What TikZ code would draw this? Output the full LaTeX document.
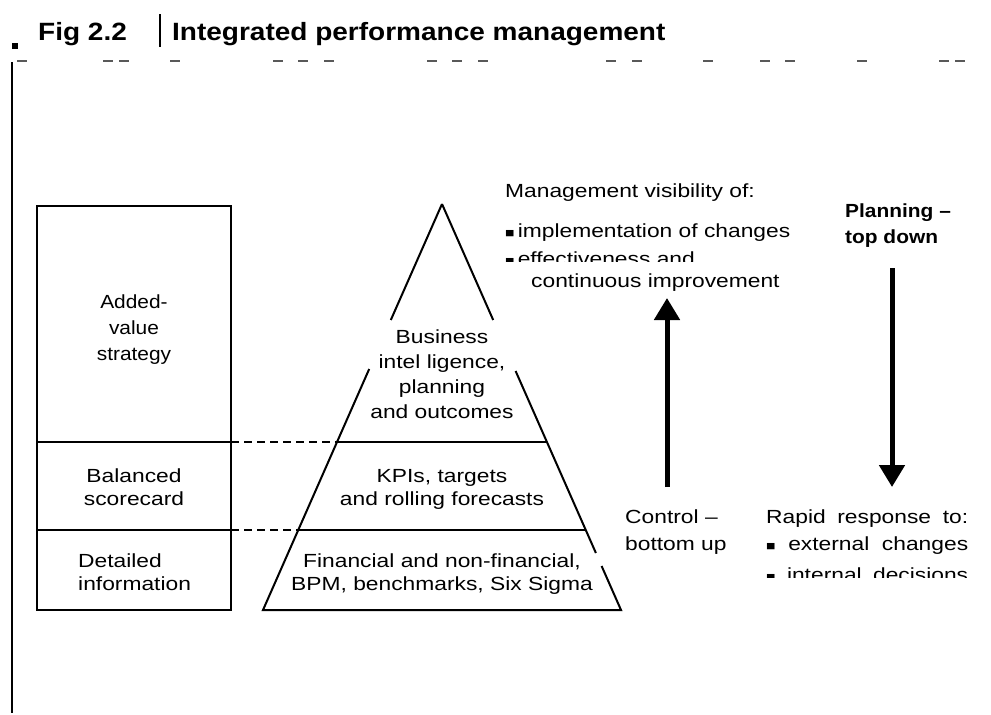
\documentclass[tikz,border=0pt]{standalone}
\usepackage{fontspec}
\setmainfont{Liberation Sans}[FakeStretch=1.2]
\newfontfamily\headfont{Liberation Sans}[FakeStretch=1.12]
\newfontfamily\keyfont{Liberation Sans}[FakeStretch=1.1]
\usetikzlibrary{arrows.meta}
\newcommand{\bodysize}{\fontsize{19}{25}\selectfont}
\newcommand{\tightsize}{\fontsize{19}{23}\selectfont}
\newcommand{\spread}[2]{\makebox[#1][s]{#2}}
\newcommand{\blt}{{\fontsize{13}{13}\selectfont ■}}

\tikzset{
  frame/.style = {line width=2pt},
  link/.style = {line width=1.6pt, dash pattern=on 8pt off 5pt},
  rule/.style = {line width=1.5pt, draw=black!65},
  flow/.style = {line width=5pt, -{Triangle[length=22pt,width=25pt]}},
  txt/.style = {inner sep=0pt, font=\bodysize},
  tighttxt/.style = {inner sep=0pt, font=\tightsize},
  head/.style = {inner sep=0pt, anchor=base west, font=\headfont\bfseries\fontsize{25}{30}\selectfont},
}

\begin{document}
\begin{tikzpicture}[x=1pt, y=-1pt]
  \useasboundingbox (0,0) rectangle (991,715);

  % heading
  \fill (12,43) rectangle (18,49);
  \node[head] (fignum) at (38,40) {Fig 2.2};
  \draw[line width=2pt] (160,14) -- (160,47);
  \node[head] (title) at (172,40) {Integrated performance management};
  \foreach \x in {17,103,119,170,273,298,324,427,452,478,606,632,703,760,785,857,939,955}
    \draw[rule] (\x,61) -- ++(10,0);
  \draw[line width=2.5pt] (12,62) -- (12,713);

  % left column
  \draw[frame] (37,206) rectangle (231,610);
  \draw[frame] (37,442) -- (231,442);
  \draw[frame] (37,530) -- (231,530);
  \draw[link] (231,442) -- (337,442);
  \draw[link] (231,530) -- (298,530);
  \node[inner sep=0pt, align=center, anchor=base, font=\keyfont\fontsize{19}{26}\selectfont] (strategy) at (134,360) {Added-\\value\\strategy};
  \node[tighttxt, align=center, anchor=base] (scorecard) at (134,505) {Balanced\\scorecard};
  \node[tighttxt, align=left, anchor=base west] (detail) at (78,590) {Detailed\\information};

  % pyramid
  \draw[frame] (442,204) -- (390.8,320);
  \draw[frame] (442,204) -- (493.2,320);
  \draw[frame] (369.2,369) -- (263,610) -- (621,610) -- (601.6,566);
  \draw[frame] (595.9,553) -- (515.6,371);
  \draw[frame] (337,442) -- (547,442);
  \draw[frame] (298.2,530) -- (585.8,530);
  \node[txt, align=center, anchor=base] (intel) at (442,418) {Business\\intel ligence,\\planning\\and outcomes};
  \node[tighttxt, align=center, anchor=base] (kpis) at (442,505) {KPIs, targets\\and rolling forecasts};
  \node[tighttxt, align=center, anchor=base] (financial) at (442,590) {Financial and non-financial,\\BPM, benchmarks, Six Sigma};

  % visibility
  \node[txt, anchor=base west] (visibility) at (505,197) {Management visibility of:};
  \node[txt, anchor=base west] (implement) at (505,237) {\blt\,implementation of changes};
  \begin{scope}
    \clip (495,240) rectangle (820,261);
    \node[txt, anchor=base west] (effective) at (505,265) {\blt\,effectiveness and};
  \end{scope}
  \node[txt, anchor=base west] (improve) at (531,287) {continuous improvement};

  \node[inner sep=0pt, align=left, anchor=base west, font=\keyfont\bfseries\fontsize{19}{26}\selectfont] (planning) at (845,243) {Planning –\\top down};

  % arrows
  \coordinate (upTail) at (667,487);
  \coordinate (upTip) at (667,298);
  \coordinate (downTail) at (892,268);
  \coordinate (downTip) at (892,487);
  \draw[flow] (upTail) -- (upTip);
  \draw[flow] (downTail) -- (downTip);

  % response
  \node[inner sep=0pt, align=left, anchor=base west, font=\fontsize{19}{27}\selectfont] (control) at (625,550) {Control –\\bottom up};
  \node[txt, anchor=base west] (rapid) at (766,523) {\spread{202pt}{Rapid response to:}};
  \node[txt, anchor=base west] (external) at (766,550) {\spread{202pt}{\blt\ external changes}};
  \begin{scope}
    \clip (760,555) rectangle (975,577);
    \node[txt, anchor=base west] (internal) at (766,581) {\spread{202pt}{\blt\ internal decisions}};
  \end{scope}
\end{tikzpicture}
\end{document}
